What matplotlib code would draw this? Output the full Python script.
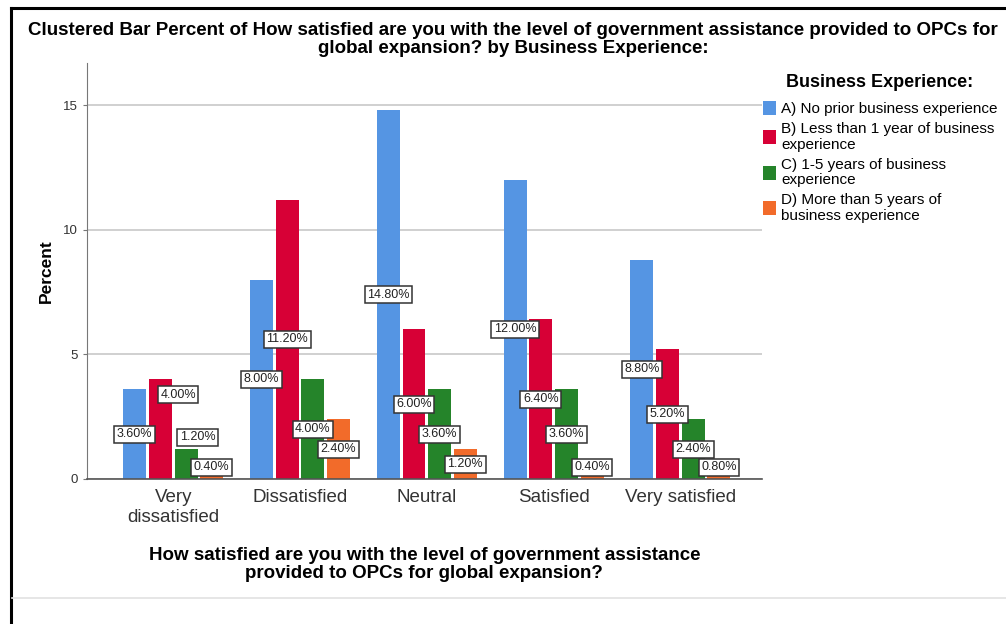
import numpy as np
import matplotlib
matplotlib.use("Agg")
import matplotlib.pyplot as plt
from matplotlib.lines import Line2D

plt.rcParams['font.family'] = ['Liberation Sans', 'DejaVu Sans']

categories = ["Very\ndissatisfied", "Dissatisfied", "Neutral", "Satisfied", "Very satisfied"]
groups = ["A) No prior business experience",
          "B) Less than 1 year of business\nexperience",
          "C) 1-5 years of business\nexperience",
          "D) More than 5 years of\nbusiness experience"]
no_prior = [3.6, 8.0, 14.8, 12.0, 8.8]
under_1yr = [4.0, 11.2, 6.0, 6.4, 5.2]
one_to_5 = [1.2, 4.0, 3.6, 3.6, 2.4]
over_5 = [0.4, 2.4, 1.2, 0.4, 0.8]
colors = ["#5595E3", "#D70036", "#25842A", "#F26B2A"]

series = [no_prior, under_1yr, one_to_5, over_5]
# labels that get pushed aside so they don't collide (group, series) -> (dx, dy)
nudge = {(0, 1): (0.14, 1.37), (0, 2): (0.09, 1.08)}

fig = plt.figure(figsize=(10.06, 6.24), dpi=100)
ax = fig.add_axes([0.0865, 0.2324, 0.6705, 0.6667])

x = np.arange(len(categories))
step = 0.2025
width = 0.181
for j, (vals, c, name) in enumerate(zip(series, colors, groups)):
    xs = x + (j - 1.5) * step
    ax.bar(xs, vals, width, color=c, label=name, zorder=2)
    for i, v in enumerate(vals):
        dx, dy = nudge.get((i, j), (0, 0))
        ax.text(xs[i] + dx, max(v / 2, 0.48) + dy, f"{v:.2f}%", ha='center', va='center',
                fontsize=9, color='#222222', zorder=4,
                bbox=dict(boxstyle='square,pad=0.2', fc='white', ec='#333333', lw=1.1))

ax.set_xlim(-0.68, 4.64)
ax.set_ylim(0, 16.69)
ax.set_yticks([0, 5, 10, 15])
ax.yaxis.grid(True, color='#C8C8C8', lw=1.2, zorder=0)
ax.set_axisbelow(True)
for s in ['top', 'right']:
    ax.spines[s].set_visible(False)
ax.spines['left'].set_color('#777777')
ax.spines['bottom'].set_color('#555555')
ax.spines['bottom'].set_linewidth(1.2)
ax.tick_params(axis='y', labelsize=9.5, colors='#777777', labelcolor='#333333', length=3)
ax.tick_params(axis='x', length=0, labelsize=13.5, labelcolor='#333333', pad=7)
ax.set_xticks(x)
ax.set_xticklabels(categories, linespacing=1.25)

ax.set_ylabel("Percent", fontsize=12.5, fontweight='bold', labelpad=7)
ax.set_xlabel("How satisfied are you with the level of government assistance\nprovided to OPCs for global expansion?",
              fontsize=13.5, fontweight='bold', labelpad=15, linespacing=1.08)

fig.text(0.51, 0.937,
         "Clustered Bar Percent of How satisfied are you with the level of government assistance provided to OPCs for\nglobal expansion? by Business Experience:",
         ha='center', va='center', fontsize=13.5, fontweight='bold', linespacing=1.08)

leg = ax.legend(loc='upper left', bbox_to_anchor=(0.988, 0.995), frameon=False,
                fontsize=11, title="Business Experience:",
                title_fontproperties={'size': 13, 'weight': 'bold'},
                handlelength=0.9, handleheight=1.0, handletextpad=0.3,
                labelspacing=0.42, borderaxespad=0.2)
leg._legend_box.sep = 7
for t in leg.get_texts():
    t.set_linespacing(1.1)

# outer frame of the output panel
fig.add_artist(Line2D([0.0105, 0.0105], [0, 0.987], color='black', lw=2.2))
fig.add_artist(Line2D([0.0105, 1.0], [0.987, 0.987], color='black', lw=2.2))
fig.add_artist(Line2D([0.012, 1.0], [0.042, 0.042], color='#E2E2E2', lw=1.2))

fig.savefig("out.png", dpi=100)
